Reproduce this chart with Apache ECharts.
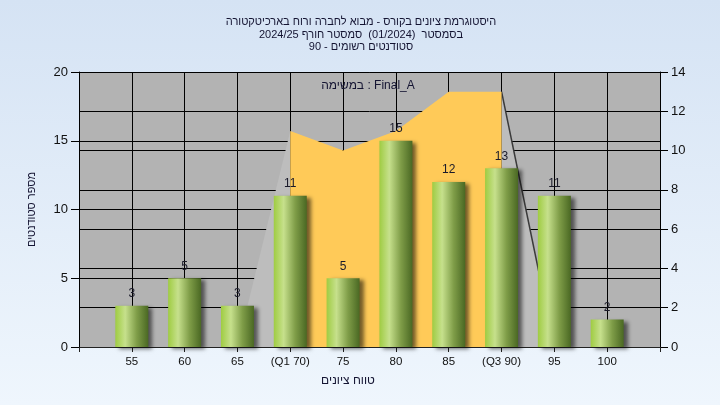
<!DOCTYPE html>
<html>
<head>
<meta charset="utf-8">
<script src="https://cdn.jsdelivr.net/npm/echarts@6/dist/echarts.min.js"></script>
<style>html,body{margin:0;padding:0;}#c{width:720px;height:405px;}</style>
</head>
<body>
<div id="c"></div>
<script>
const categories = [55, 60, 65, 70, 75, 80, 85, 90, 95, 100];
const tickLabels = ['55', '60', '65', '(Q1 70)', '75', '80', '85', '(Q3 90)', '95', '100'];
const counts = [3, 5, 3, 11, 5, 15, 12, 13, 11, 2];
const boxX = [70, 75, 80, 85, 90];
const boxY = [11, 10, 11, 13, 13];
const lowWhiskerX = [65, 70];
const lowWhiskerY = [0, 11];
const highWhiskerX = [90, 95];
const highWhiskerY = [13, 0];
const titleLines = ['היסטוגרמת ציונים בקורס - מבוא לחברה ורוח בארכיטקטורה', 'בסמסטר  (01/2024)  סמסטר חורף 2024/25', 'סטודנטים רשומים - 90'];
const leftAxisName = 'מספר סטודנטים';
const xAxisName = 'טווח ציונים';
const noteText = 'במשימה : Final_A';

const FONT = '"Liberation Sans", Arial, "DejaVu Sans", sans-serif';
const zip = (xs, ys) => xs.map((x, i) => [x, ys[i]]);
const labelMap = {};
categories.forEach((c, i) => { labelMap[c] = tickLabels[i]; });

const chart = echarts.init(document.getElementById('c'), null, {renderer: 'canvas'});
const barGrad = new echarts.graphic.LinearGradient(0, 0, 1, 0, [
  {offset: 0, color: '#9fcc42'},
  {offset: 0.3, color: '#c6e08c'},
  {offset: 0.65, color: '#7f9d48'},
  {offset: 1, color: '#4a6823'}
]);

chart.setOption({
  animation: false,
  backgroundColor: new echarts.graphic.LinearGradient(0, 0, 0, 1, [
    {offset: 0, color: '#d5e3f4'},
    {offset: 1, color: '#eff6fd'}
  ]),
  title: {
    text: titleLines.join('\n'),
    left: 356, top: 11, textAlign: 'center',
    textStyle: {fontFamily: FONT, fontSize: 11, fontWeight: 'normal', color: '#141432', lineHeight: 12.5}
  },
  grid: {left: 79, right: 60, top: 72, bottom: 58, show: true, backgroundColor: '#b3b3b3', borderWidth: 0},
  xAxis: {
    type: 'value', min: 50, max: 105, interval: 5,
    axisLine: {show: true, onZero: false, lineStyle: {color: '#222', width: 1}},
    axisTick: {show: true, length: 5, lineStyle: {color: '#222'}},
    splitLine: {show: true, lineStyle: {color: '#000', width: 1}},
    axisLabel: {
      fontFamily: FONT, fontSize: 11.5, color: '#111', margin: 9,
      formatter: v => (labelMap[v] !== undefined ? labelMap[v] : '')
    }
  },
  yAxis: [
    {
      type: 'value', min: 0, max: 20, interval: 5, position: 'left',
      name: leftAxisName, nameLocation: 'middle', nameGap: 42,
      nameTextStyle: {fontFamily: FONT, fontSize: 11, color: '#141432'},
      axisLine: {show: true, lineStyle: {color: '#000'}},
      axisTick: {show: true, length: 8, lineStyle: {color: '#000'}},
      splitLine: {show: true, lineStyle: {color: '#000', width: 1}},
      axisLabel: {fontFamily: FONT, fontSize: 13, color: '#111', margin: 11}
    },
    {
      type: 'value', min: 0, max: 14, interval: 2, position: 'right',
      axisLine: {show: true, lineStyle: {color: '#000'}},
      axisTick: {show: true, length: 8, lineStyle: {color: '#000'}},
      splitLine: {show: true, lineStyle: {color: '#000', width: 1}},
      axisLabel: {fontFamily: FONT, fontSize: 13, color: '#111', margin: 11}
    }
  ],
  graphic: [
    {type: 'text', x: 368, y: 86, z: 10, style: {text: noteText, textAlign: 'center', textVerticalAlign: 'middle', font: '12px ' + FONT, fill: '#141432'}},
    {type: 'text', x: 348, y: 381, style: {text: xAxisName, textAlign: 'center', textVerticalAlign: 'middle', font: '12px ' + FONT, fill: '#141432'}}
  ],
  series: [
    {
      type: 'line', yAxisIndex: 1, data: zip(lowWhiskerX, lowWhiskerY),
      symbol: 'none', lineStyle: {width: 0, color: '#bdbdbd'},
      areaStyle: {color: '#bdbdbd', opacity: 1}, z: 1
    },
    {
      type: 'line', yAxisIndex: 1, data: zip(highWhiskerX, highWhiskerY),
      symbol: 'none', lineStyle: {width: 1.5, color: '#3a3a3a'},
      areaStyle: {color: '#bdbdbd', opacity: 1}, z: 1
    },
    {
      type: 'line', yAxisIndex: 1, data: zip(boxX, boxY),
      symbol: 'none', lineStyle: {width: 0, color: '#ffca58'},
      areaStyle: {color: '#ffca58', opacity: 1}, z: 2
    },
    {
      type: 'bar', yAxisIndex: 0, data: zip(categories, counts), barWidth: 33,
      itemStyle: {color: barGrad, shadowBlur: 4, shadowColor: 'rgba(0,0,0,0.55)', shadowOffsetX: 4, shadowOffsetY: 2},
      label: {show: true, position: 'top', distance: 6, fontFamily: FONT, fontSize: 12, color: '#1a1a2a'},
      z: 3
    }
  ]
});
</script>
</body>
</html>
